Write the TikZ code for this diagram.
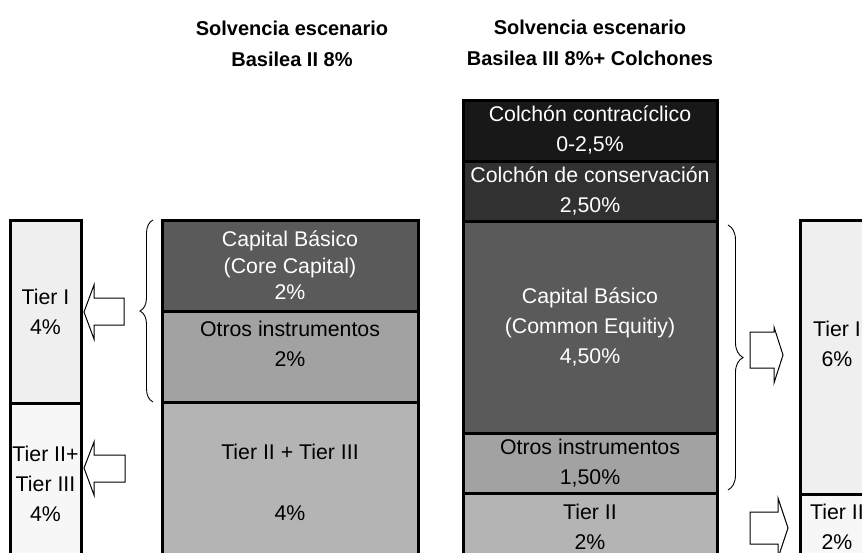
\documentclass[tikz,border=0pt]{standalone}
\usepackage{fontspec}
\setmainfont{Liberation Sans}
\usetikzlibrary{decorations.pathreplacing}
\definecolor{contragray}{HTML}{181818}
\definecolor{consgray}{HTML}{313131}
\definecolor{coregray}{HTML}{5A5A5A}
\definecolor{otrosgray}{HTML}{A2A2A2}
\definecolor{tiertwogray}{HTML}{B4B4B4}
\definecolor{tieronelight}{HTML}{EFEFEF}
\definecolor{tiertwolight}{HTML}{F7F7F7}
\begin{document}
\begin{tikzpicture}[x=1pt,y=-1pt,
    blk/.style={draw=black,line width=3pt,inner sep=0pt,outer sep=0pt,align=center,
        font=\fontsize{21.3}{30}\selectfont},
    title/.style={align=center,font=\bfseries\fontsize{20}{31}\selectfont},
    blockarrow/.style={draw=black,line width=1pt,fill=white,line join=miter},
    bracket/.style={decorate,decoration={brace,amplitude=13pt},line width=0.9pt}]
    \useasboundingbox (0,0) rectangle (862,552);
    \clip (0,0) rectangle (862,552);
    % titles
    \node[title] at (292,44) (titleII) {Solvencia escenario\\Basilea II 8\%};
    \node[title] at (590,43) (titleIII) {Solvencia escenario\\Basilea III 8\%+ Colchones};
    % left column
    \node[blk,fill=tieronelight,minimum width=71pt,minimum height=183pt] at (45.5,311.5) (tieroneL) {Tier I\\4\%};
    \node[blk,fill=tiertwolight,minimum width=71pt,minimum height=162pt] at (45.5,484) (tiertwoL) {Tier II+\\Tier III\\4\%};
    % Basilea II
    \node[blk,fill=coregray,text=white,minimum width=256pt,minimum height=91pt,
        font=\fontsize{21.3}{26.5}\selectfont] at (290,265.5) (capII) {Capital Básico\\(Core Capital)\\2\%};
    \node[blk,fill=otrosgray,minimum width=256pt,minimum height=91pt] at (290,356.5) (otrosII) {Otros instrumentos\\2\%\\[-4pt]\mbox{}};
    \node[blk,fill=tiertwogray,minimum width=256pt,minimum height=160pt] at (290,482) (tierII) {Tier II + Tier III\\[31pt]4\%};
    % Basilea III
    \node[blk,fill=contragray,text=white,minimum width=254pt,minimum height=61pt] at (590,130.5) (contraIII) {Colchón contracíclico\\0-2,5\%};
    \node[blk,fill=consgray,text=white,minimum width=254pt,minimum height=60pt] at (590,191) (consIII) {Colchón de conservación\\2,50\%};
    \node[blk,fill=coregray,text=white,minimum width=254pt,minimum height=212pt] at (590,327) (capIII) {Capital Básico\\(Common Equitiy)\\4,50\%};
    \node[blk,fill=otrosgray,minimum width=254pt,minimum height=60pt] at (590,463) (otrosIII) {Otros instrumentos\\1,50\%};
    \node[blk,fill=tiertwogray,minimum width=254pt,minimum height=67pt] at (590,526.5) (tierIII) {Tier II\\2\%};
    % right column
    \node[blk,fill=tieronelight,minimum width=74pt,minimum height=274pt] at (837,357) (tieroneR) {Tier I\\6\%\\[-4pt]\mbox{}};
    \node[blk,fill=tiertwolight,minimum width=74pt,minimum height=66pt] at (837,527) (tiertwoR) {Tier II\\2\%};
    % braces
    \draw[bracket] ([xshift=-9pt]otrosII.south west) -- ([xshift=-9pt]capII.north west);
    \draw[bracket,decoration={amplitude=15pt}] ([xshift=11pt,yshift=-4pt]capIII.north east) -- ([xshift=11pt,yshift=3pt]otrosIII.south east);
    % block arrows
    \draw[blockarrow] (84,312) -- (94,285) -- (94,298) -- (124,298) -- (124,325) -- (94,325) -- (94,339) -- cycle;
    \draw[blockarrow] (84,468) -- (94,442) -- (94,455) -- (125,455) -- (125,482) -- (94,482) -- (94,495) -- cycle;
    \draw[blockarrow] (750,332) -- (774,332) -- (774,327) -- (783,355) -- (774,383) -- (774,368) -- (750,368) -- cycle;
    \draw[blockarrow] (750,512) -- (778,512) -- (778,498) -- (788,528) -- (778,558) -- (778,544) -- (750,544) -- cycle;
\end{tikzpicture}
\end{document}
